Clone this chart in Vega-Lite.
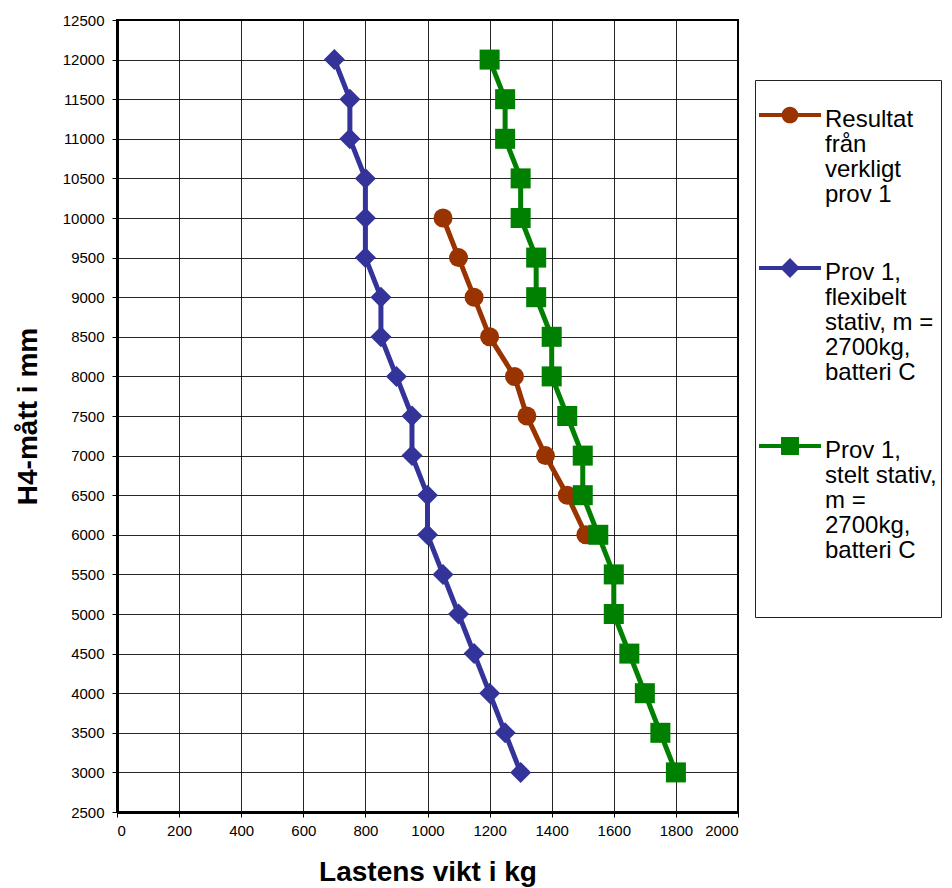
{
  "$schema": "https://vega.github.io/schema/vega-lite/v6.json",
  "width": 621,
  "height": 792,
  "autosize": {"type": "none"},
  "padding": {"left": 117, "top": 20, "right": 214, "bottom": 76},
  "background": "white",
  "config": {
    "font": "Liberation Sans",
    "view": {"stroke": "black", "strokeWidth": 2},
    "axis": {
      "gridColor": "black",
      "gridWidth": 1,
      "gridOpacity": 0.85,
      "domainColor": "black",
      "domainWidth": 3,
      "tickColor": "black",
      "tickWidth": 1,
      "tickSize": 5,
      "labelColor": "black",
      "labelFont": "Liberation Sans",
      "labelFontSize": 15,
      "titleColor": "black",
      "titleFont": "Liberation Sans",
      "titleFontSize": 28,
      "titleFontWeight": "bold"
    }
  },
  "data": {
    "values": [
      {"serie": "Resultat från verkligt prov 1", "vikt": 1050, "h": 10000},
      {"serie": "Resultat från verkligt prov 1", "vikt": 1100, "h": 9500},
      {"serie": "Resultat från verkligt prov 1", "vikt": 1150, "h": 9000},
      {"serie": "Resultat från verkligt prov 1", "vikt": 1200, "h": 8500},
      {"serie": "Resultat från verkligt prov 1", "vikt": 1280, "h": 8000},
      {"serie": "Resultat från verkligt prov 1", "vikt": 1320, "h": 7500},
      {"serie": "Resultat från verkligt prov 1", "vikt": 1380, "h": 7000},
      {"serie": "Resultat från verkligt prov 1", "vikt": 1450, "h": 6500},
      {"serie": "Resultat från verkligt prov 1", "vikt": 1510, "h": 6000},
      {"serie": "Prov 1, flexibelt stativ, m = 2700kg, batteri C", "vikt": 700, "h": 12000},
      {"serie": "Prov 1, flexibelt stativ, m = 2700kg, batteri C", "vikt": 750, "h": 11500},
      {"serie": "Prov 1, flexibelt stativ, m = 2700kg, batteri C", "vikt": 750, "h": 11000},
      {"serie": "Prov 1, flexibelt stativ, m = 2700kg, batteri C", "vikt": 800, "h": 10500},
      {"serie": "Prov 1, flexibelt stativ, m = 2700kg, batteri C", "vikt": 800, "h": 10000},
      {"serie": "Prov 1, flexibelt stativ, m = 2700kg, batteri C", "vikt": 800, "h": 9500},
      {"serie": "Prov 1, flexibelt stativ, m = 2700kg, batteri C", "vikt": 850, "h": 9000},
      {"serie": "Prov 1, flexibelt stativ, m = 2700kg, batteri C", "vikt": 850, "h": 8500},
      {"serie": "Prov 1, flexibelt stativ, m = 2700kg, batteri C", "vikt": 900, "h": 8000},
      {"serie": "Prov 1, flexibelt stativ, m = 2700kg, batteri C", "vikt": 950, "h": 7500},
      {"serie": "Prov 1, flexibelt stativ, m = 2700kg, batteri C", "vikt": 950, "h": 7000},
      {"serie": "Prov 1, flexibelt stativ, m = 2700kg, batteri C", "vikt": 1000, "h": 6500},
      {"serie": "Prov 1, flexibelt stativ, m = 2700kg, batteri C", "vikt": 1000, "h": 6000},
      {"serie": "Prov 1, flexibelt stativ, m = 2700kg, batteri C", "vikt": 1050, "h": 5500},
      {"serie": "Prov 1, flexibelt stativ, m = 2700kg, batteri C", "vikt": 1100, "h": 5000},
      {"serie": "Prov 1, flexibelt stativ, m = 2700kg, batteri C", "vikt": 1150, "h": 4500},
      {"serie": "Prov 1, flexibelt stativ, m = 2700kg, batteri C", "vikt": 1200, "h": 4000},
      {"serie": "Prov 1, flexibelt stativ, m = 2700kg, batteri C", "vikt": 1250, "h": 3500},
      {"serie": "Prov 1, flexibelt stativ, m = 2700kg, batteri C", "vikt": 1300, "h": 3000},
      {"serie": "Prov 1, stelt stativ, m = 2700kg, batteri C", "vikt": 1200, "h": 12000},
      {"serie": "Prov 1, stelt stativ, m = 2700kg, batteri C", "vikt": 1250, "h": 11500},
      {"serie": "Prov 1, stelt stativ, m = 2700kg, batteri C", "vikt": 1250, "h": 11000},
      {"serie": "Prov 1, stelt stativ, m = 2700kg, batteri C", "vikt": 1300, "h": 10500},
      {"serie": "Prov 1, stelt stativ, m = 2700kg, batteri C", "vikt": 1300, "h": 10000},
      {"serie": "Prov 1, stelt stativ, m = 2700kg, batteri C", "vikt": 1350, "h": 9500},
      {"serie": "Prov 1, stelt stativ, m = 2700kg, batteri C", "vikt": 1350, "h": 9000},
      {"serie": "Prov 1, stelt stativ, m = 2700kg, batteri C", "vikt": 1400, "h": 8500},
      {"serie": "Prov 1, stelt stativ, m = 2700kg, batteri C", "vikt": 1400, "h": 8000},
      {"serie": "Prov 1, stelt stativ, m = 2700kg, batteri C", "vikt": 1450, "h": 7500},
      {"serie": "Prov 1, stelt stativ, m = 2700kg, batteri C", "vikt": 1500, "h": 7000},
      {"serie": "Prov 1, stelt stativ, m = 2700kg, batteri C", "vikt": 1500, "h": 6500},
      {"serie": "Prov 1, stelt stativ, m = 2700kg, batteri C", "vikt": 1550, "h": 6000},
      {"serie": "Prov 1, stelt stativ, m = 2700kg, batteri C", "vikt": 1600, "h": 5500},
      {"serie": "Prov 1, stelt stativ, m = 2700kg, batteri C", "vikt": 1600, "h": 5000},
      {"serie": "Prov 1, stelt stativ, m = 2700kg, batteri C", "vikt": 1650, "h": 4500},
      {"serie": "Prov 1, stelt stativ, m = 2700kg, batteri C", "vikt": 1700, "h": 4000},
      {"serie": "Prov 1, stelt stativ, m = 2700kg, batteri C", "vikt": 1750, "h": 3500},
      {"serie": "Prov 1, stelt stativ, m = 2700kg, batteri C", "vikt": 1800, "h": 3000}
    ]
  },
  "transform": [{"calculate": "datum.serie", "as": "markering"}],
  "encoding": {
    "x": {
      "field": "vikt",
      "type": "quantitative",
      "scale": {"domain": [0, 2000], "nice": false},
      "axis": {
        "title": "Lastens vikt i kg",
        "format": "d",
        "values": [0, 200, 400, 600, 800, 1000, 1200, 1400, 1600, 1800, 2000],
        "labelPadding": 6,
        "titlePadding": 20
      }
    },
    "y": {
      "field": "h",
      "type": "quantitative",
      "scale": {"domain": [2500, 12500], "nice": false, "zero": false},
      "axis": {
        "title": "H4-mått i mm",
        "format": "d",
        "values": [2500, 3000, 3500, 4000, 4500, 5000, 5500, 6000, 6500, 7000, 7500, 8000, 8500, 9000, 9500, 10000, 10500, 11000, 11500, 12000, 12500],
        "labelPadding": 8,
        "titlePadding": 20
      }
    },
    "color": {
      "field": "serie",
      "type": "nominal",
      "scale": {
        "domain": ["Resultat från verkligt prov 1", "Prov 1, flexibelt stativ, m = 2700kg, batteri C", "Prov 1, stelt stativ, m = 2700kg, batteri C"],
        "range": ["#993300", "#333399", "#008000"]
      },
      "legend": {
        "orient": "none",
        "legendX": 638,
        "legendY": 60,
        "title": null,
        "strokeColor": "#222222",
        "fillColor": "white",
        "padding": 4,
        "labelFont": "Liberation Sans",
        "labelFontSize": 24,
        "labelColor": "black",
        "labelLimit": 220,
        "labelOffset": 4,
        "labelBaseline": "top",
        "rowPadding": 30,
        "symbolSize": 3844,
        "symbolType": "M-1,-0.065L1,-0.065L1,0.065L-1,0.065Z M-0.27,0A0.27,0.27,0,1,1,0.27,0A0.27,0.27,0,1,1,-0.27,0Z",
        "symbolStrokeWidth": 0,
        "symbolOpacity": 1,
        "labelExpr": "datum.label == 'Resultat från verkligt prov 1' ? ['Resultat', 'från', 'verkligt', 'prov 1'] : datum.label == 'Prov 1, flexibelt stativ, m = 2700kg, batteri C' ? ['Prov 1,', 'flexibelt', 'stativ, m =', '2700kg,', 'batteri C'] : ['Prov 1,', 'stelt stativ,', 'm =', '2700kg,', 'batteri C', ' ', ' ']",
        "encoding": {
          "symbols": {
            "shape": {"value": {"expr": "datum.value == 'Resultat från verkligt prov 1' ? 'M-1,-0.065L1,-0.065L1,0.065L-1,0.065Z M-0.27,0A0.27,0.27,0,1,1,0.27,0A0.27,0.27,0,1,1,-0.27,0Z' : datum.value == 'Prov 1, flexibelt stativ, m = 2700kg, batteri C' ? 'M-1,-0.065L1,-0.065L1,0.065L-1,0.065Z M0,-0.32L0.32,0L0,0.32L-0.32,0Z' : 'M-1,-0.065L1,-0.065L1,0.065L-1,0.065Z M-0.29,-0.29L0.29,-0.29L0.29,0.29L-0.29,0.29Z'"}},
            "fill": {"value": {"expr": "scale('color', datum.value)"}},
            "size": {"value": 3844}
          },
          "labels": {
            "dy": {"value": -7},
            "lineHeight": {"value": 25}
          }
        }
      }
    }
  },
  "layer": [
    {
      "mark": {"type": "line", "strokeWidth": 5},
      "encoding": {
        "order": {"field": "h", "type": "quantitative"}
      }
    },
    {
      "mark": {"type": "point", "filled": true, "opacity": 1},
      "encoding": {
        "shape": {
          "field": "markering",
          "type": "nominal",
          "scale": {"range": ["diamond", "square", "circle"]},
          "legend": null
        },
        "size": {
          "field": "markering",
          "type": "nominal",
          "scale": {"range": [441, 361, 283]},
          "legend": null
        }
      }
    }
  ]
}
